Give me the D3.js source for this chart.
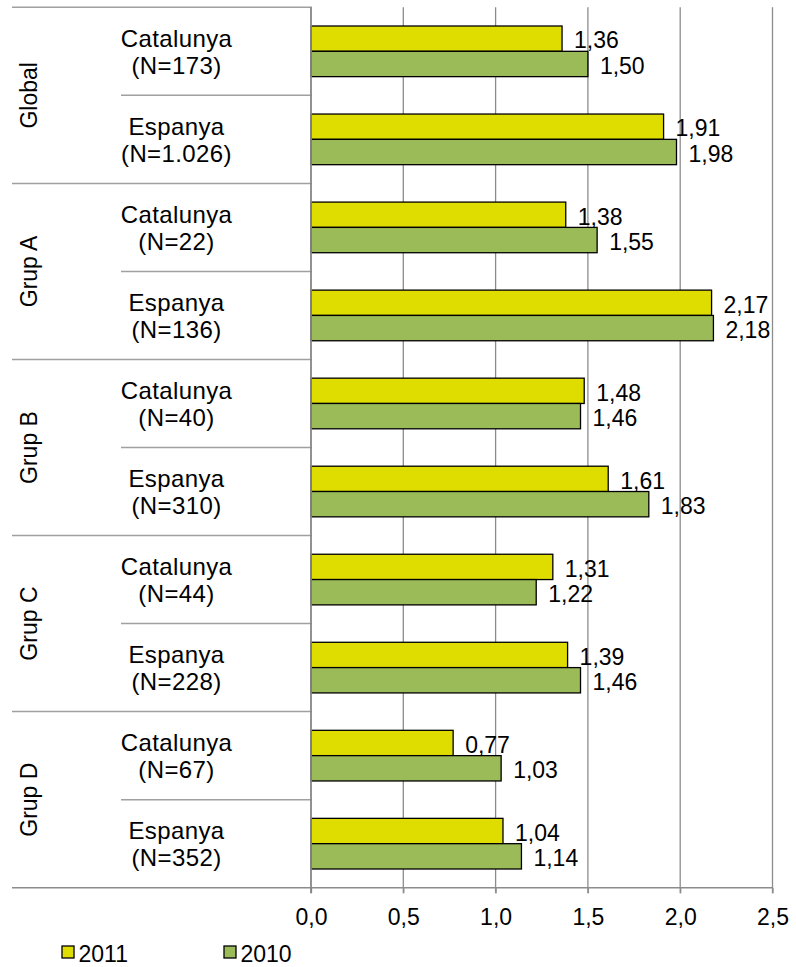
<!DOCTYPE html>
<html>
<head>
<meta charset="utf-8">
<script src="https://cdn.jsdelivr.net/npm/d3@7"></script>
<style>
  html, body { margin: 0; padding: 0; background: #fff; }
  svg { display: block; font-family: "Liberation Sans", Arial, sans-serif; }
</style>
</head>
<body>
<svg id="chart" width="796" height="967"></svg>
<script>
// Groups and the two regions shown inside each group
const groups = ["Global", "Grup A", "Grup B", "Grup C", "Grup D"];
const regions = ["Catalunya", "Espanya"];
const sampleSizes = ["N=173", "N=1.026", "N=22", "N=136", "N=40", "N=310", "N=44", "N=228", "N=67", "N=352"];

// Series values, one per row (group × region)
const series = ["2011", "2010"];
const values2011 = [1.36, 1.91, 1.38, 2.17, 1.48, 1.61, 1.31, 1.39, 0.77, 1.04];
const values2010 = [1.50, 1.98, 1.55, 2.18, 1.46, 1.83, 1.22, 1.46, 1.03, 1.14];

// Axis ticks
const xTicks = [0, 0.5, 1.0, 1.5, 2.0, 2.5];

const colors = { "2011": "#dfdc00", "2010": "#9bbb59" };
const fmt = v => d3.format(".2f")(v).replace(".", ",");
const fmtTick = v => d3.format(".1f")(v).replace(".", ",");

const rows = [];
groups.forEach((g, gi) => regions.forEach((r, ri) => {
  const i = gi * regions.length + ri;
  rows.push({ id: i, group: g, region: r, n: sampleSizes[i], "2011": values2011[i], "2010": values2010[i] });
}));

const svg = d3.select("#chart");
const plotLeft = 311, plotRight = 772.5, plotTop = 7.3, plotBottom = 887.7;
const labelLeft = 12, innerSepLeft = 121;
const fs = 23;

const x = d3.scaleLinear().domain([0, 2.5]).range([plotLeft, plotRight]);
const y = d3.scaleBand().domain(rows.map(d => d.id)).range([plotTop, plotBottom]);
const yInner = d3.scaleBand().domain(series).range([18.7, y.bandwidth() - 18.7]);

// Vertical gridlines with ticks below the axis
svg.append("g")
  .selectAll("line")
  .data(xTicks.slice(1))
  .join("line")
  .attr("x1", d => x(d)).attr("x2", d => x(d))
  .attr("y1", plotTop).attr("y2", plotBottom + 5.5)
  .attr("stroke", "#8c8c8c").attr("stroke-width", 1.3);

// Bottom axis with tick labels
const xAxis = d3.axisBottom(x).tickValues(xTicks).tickFormat(fmtTick).tickSize(5.5).tickSizeOuter(0);
const axisG = svg.append("g").attr("transform", `translate(0,${plotBottom})`).call(xAxis);
axisG.select(".domain").remove();
axisG.selectAll(".tick line").attr("stroke", "#8c8c8c").attr("stroke-width", 1.3);
axisG.selectAll(".tick text")
  .attr("font-size", fs).attr("fill", "#000")
  .attr("font-family", "Liberation Sans, Arial, sans-serif")
  .attr("y", 37.3).attr("dy", null);

// Horizontal axis line (continues left under the category labels)
svg.append("line")
  .attr("x1", labelLeft).attr("x2", plotRight)
  .attr("y1", plotBottom).attr("y2", plotBottom)
  .attr("stroke", "#8c8c8c").attr("stroke-width", 1.5);

// Category separators: top line, group separators and region separators
const sepLines = [{ y: plotTop, x1: labelLeft }];
rows.forEach((d, i) => {
  if (i === rows.length - 1) return;
  const yy = y(d.id) + y.bandwidth();
  sepLines.push({ y: yy, x1: (i % 2 === 1) ? labelLeft : innerSepLeft });
});
svg.append("g").selectAll("line").data(sepLines).join("line")
  .attr("x1", d => d.x1).attr("x2", plotLeft + 1)
  .attr("y1", d => d.y).attr("y2", d => d.y)
  .attr("stroke", "#a0a0a0").attr("stroke-width", 1.5);

// Bars
const rowG = svg.append("g").selectAll("g").data(rows).join("g")
  .attr("transform", d => `translate(0,${y(d.id)})`);

rowG.selectAll("rect")
  .data(d => series.map(s => ({ s, v: d[s] })))
  .join("rect")
  .attr("x", x(0))
  .attr("y", d => yInner(d.s))
  .attr("width", d => x(d.v) - x(0))
  .attr("height", yInner.bandwidth())
  .attr("fill", d => colors[d.s])
  .attr("stroke", "#000").attr("stroke-width", 1.3);

// Value labels
rowG.selectAll("text.val")
  .data(d => series.map(s => ({ s, v: d[s] })))
  .join("text")
  .attr("class", "val")
  .attr("x", d => x(d.v) + 12)
  .attr("y", d => yInner(d.s) + yInner.bandwidth() / 2 + 9.8)
  .attr("font-size", fs).attr("fill", "#000")
  .text(d => fmt(d.v));

// Vertical axis line
svg.append("line")
  .attr("x1", plotLeft).attr("x2", plotLeft)
  .attr("y1", plotTop).attr("y2", plotBottom + 5.5)
  .attr("stroke", "#868686").attr("stroke-width", 1.8);

// Region labels (two lines)
const regionLabel = svg.append("g").selectAll("text").data(rows).join("text")
  .attr("text-anchor", "middle")
  .attr("font-size", 24).attr("fill", "#000")
  .attr("letter-spacing", 0.4);
regionLabel.append("tspan")
  .attr("x", 176.5)
  .attr("y", d => y(d.id) + y.bandwidth() / 2 - 4.6)
  .text(d => d.region);
regionLabel.append("tspan")
  .attr("x", 176.5)
  .attr("y", d => y(d.id) + y.bandwidth() / 2 + 22.7)
  .text(d => `(${d.n})`);

// Group labels, rotated
svg.append("g").selectAll("text").data(groups).join("text")
  .attr("transform", (g, gi) => {
    const cy = y(gi * 2) + y.bandwidth();
    return `translate(36.7,${cy}) rotate(-90)`;
  })
  .attr("text-anchor", "middle")
  .attr("font-size", fs).attr("fill", "#000")
  .text(d => d);

// Legend
const legendItems = [{ s: "2011", x: 62 }, { s: "2010", x: 224 }];
const lg = svg.append("g").selectAll("g").data(legendItems).join("g")
  .attr("transform", d => `translate(${d.x},946)`);
lg.append("rect")
  .attr("width", 12).attr("height", 12)
  .attr("fill", d => colors[d.s])
  .attr("stroke", "#000").attr("stroke-width", 1.3);
lg.append("text")
  .attr("x", 16.5).attr("y", 15.7)
  .attr("font-size", fs).attr("fill", "#000")
  .text(d => d.s);
</script>
</body>
</html>
